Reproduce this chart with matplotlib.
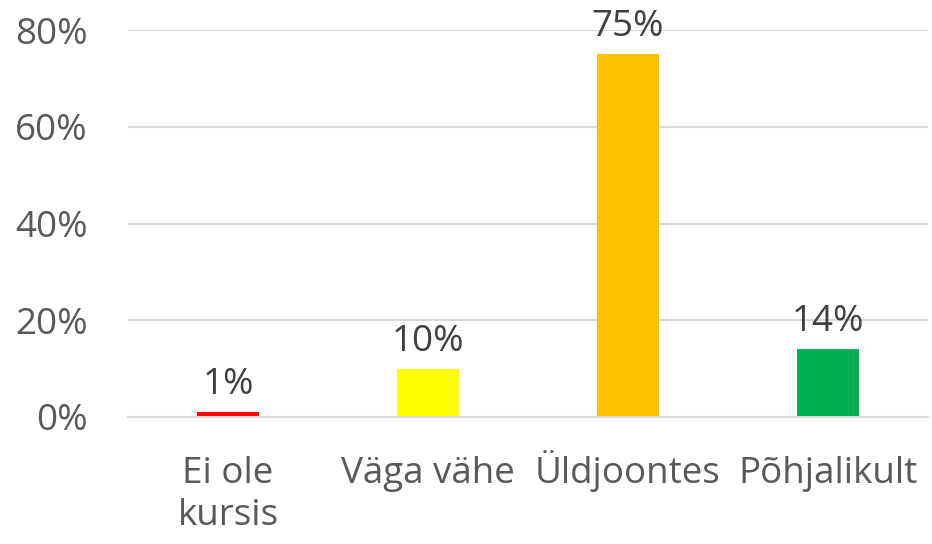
import matplotlib.pyplot as plt
from matplotlib.ticker import FuncFormatter

categories = ["Ei ole\nkursis", "Väga vähe", "Üldjoontes", "Põhjalikult"]
values = [1, 10, 75, 14]
colors = ["#FF0000", "#FFFF00", "#FFC000", "#00B050"]
yticks = [0, 20, 40, 60, 80]

plt.rcParams['font.family'] = ['Open Sans', 'DejaVu Sans']
tick_color = "#595959"
label_color = "#404040"
fs = 26.5

fig = plt.figure(figsize=(9.32, 5.44), dpi=100)
ax = fig.add_axes([128 / 932, 1 - 417 / 544, 800 / 932, 387 / 544])

x = list(range(len(categories)))
ax.bar(x, values, width=0.31, color=colors, zorder=3)

# data labels above bars
for xi, v in zip(x, values):
    ax.annotate("%d%%" % v, xy=(xi, v), xytext=(0, 13), textcoords="offset points",
                ha="center", va="baseline", fontsize=fs, color=label_color,
                annotation_clip=False)

# category labels, one line at a time so every first line shares a baseline
for xi, c in zip(x, categories):
    for k, line in enumerate(c.split("\n")):
        ax.annotate(line, xy=(xi, 0), xycoords=("data", "axes fraction"),
                    xytext=(0, -47.5 - 30 * k), textcoords="offset points",
                    ha="center", va="baseline", fontsize=fs, color=tick_color,
                    annotation_clip=False)

ax.set_xlim(-0.5, 3.5)
ax.set_ylim(0, 80)
ax.set_yticks(yticks)
ax.yaxis.set_major_formatter(FuncFormatter(lambda v, p: "%d%%" % v))
ax.set_xticks([])
ax.tick_params(axis="y", length=0, labelsize=fs, labelcolor=tick_color, pad=29)

ax.grid(axis="y", color="#D9D9D9", linewidth=1.5, zorder=0)
for side in ["top", "right", "left"]:
    ax.spines[side].set_visible(False)
ax.spines["bottom"].set_color("#D9D9D9")
ax.spines["bottom"].set_linewidth(1.5)
ax.spines["bottom"].set_zorder(4)

fig.savefig("out.png", dpi=100)
